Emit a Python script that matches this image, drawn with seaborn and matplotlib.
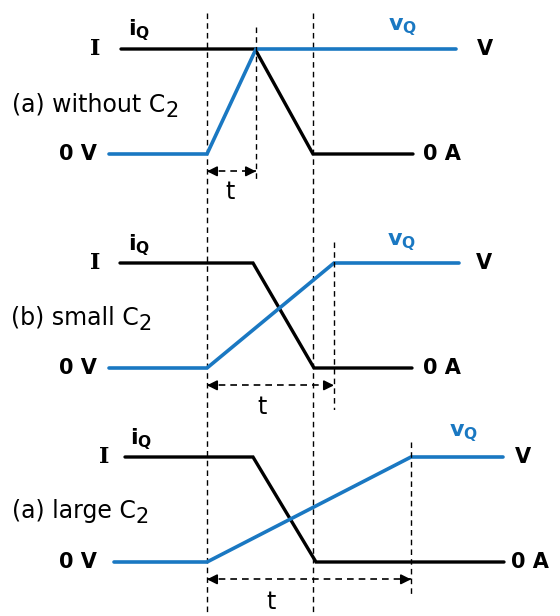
import numpy as np
import pandas as pd
import seaborn as sns
import matplotlib.pyplot as plt

sns.set_theme(style="white")
plt.rcParams['font.family'] = ['DejaVu Sans']
plt.rcParams['text.color'] = 'black'

BLUE = '#1a78c2'

# time axis: 0 = start of the voltage rise (arbitrary units)
panels = ['(a) without C', '(b) small C', '(a) large C']
i_time = [[-86, 48, 106, 206], [-87, 46, 107, 205], [-82, 46, 109, 297]]
i_level = [1, 1, 0, 0]
v_time = [[-98, 0, 49, 249], [-98, 0, 127, 252], [-93, 0, 204, 296]]
v_level = [0, 0, 1, 1]
t_len = [49, 127, 204]
i_fall = 106  # end of current fall in (a)

W, H = 560, 616
UNIT = 105.0  # px for one level step
X0 = 207      # px of time 0
# (top px, bottom px, baseline px) for each panel
layout = [(0, 200, 154), (200, 410, 368), (410, 616, 562)]

fig = plt.figure(figsize=(W / 100, H / 100), dpi=100)

# background axes for the long dashed guides
bg = fig.add_axes([0, 0, 1, 1])
bg.set_xlim(-X0, W - X0)
bg.set_ylim(H, 0)
bg.axis('off')
for tx in [0, i_fall]:
    bg.plot([tx, tx], [13, H], color='black', lw=1, ls=(0, (4, 3)))

lbl_pos = [
    dict(iq=(-68, 1.18), vq=(196, 1.21), lab=(-195, 0.47), ilab=(-112, 1), vlab=(278, 1), alab=(216, 0), clab=(23, -0.36), dash=(1.21, -0.27)),
    dict(iq=(-68, 1.17), vq=(195, 1.20), lab=(-196, 0.48), ilab=(-112, 1), vlab=(277, 1), alab=(216, 0), clab=(55, -0.37), dash=(1.20, -0.62)),
    dict(iq=(-66, 1.17), vq=(257, 1.23), lab=(-195, 0.49), ilab=(-103, 1), vlab=(316, 1), alab=(304, 0), clab=(64, -0.38), dash=(1.14, -0.33)),
]

for k, (top, bot, base) in enumerate(layout):
    ax = fig.add_axes([0, 1 - bot / H, 1, (bot - top) / H])
    ax.set_xlim(-X0, W - X0)
    ax.set_ylim((base - bot) / UNIT, (base - top) / UNIT)
    ax.axis('off')
    ax.patch.set_alpha(0)

    df_i = pd.DataFrame({'t': i_time[k], 'level': i_level})
    df_v = pd.DataFrame({'t': v_time[k], 'level': v_level})
    sns.lineplot(data=df_i, x='t', y='level', ax=ax, color='black', lw=2.4,
                 sort=False, estimator=None, solid_joinstyle='miter')
    sns.lineplot(data=df_v, x='t', y='level', ax=ax, color=BLUE, lw=2.6,
                 sort=False, estimator=None, solid_joinstyle='miter')

    p = lbl_pos[k]
    # short dashed guide at end of voltage rise
    ax.plot([t_len[k], t_len[k]], list(p['dash']), color='black', lw=1, ls=(0, (4, 3)))

    # dimension arrow
    ya = -0.165
    ax.plot([0, t_len[k]], [ya, ya], color='black', lw=1.2, ls=(0, (4, 3)))
    for a, b in [(6, 0), (t_len[k] - 6, t_len[k])]:
        ax.annotate('', xy=(b, ya), xytext=(a, ya),
                    arrowprops=dict(arrowstyle='-|>,head_length=0.5,head_width=0.25',
                                    color='black', lw=1.2, shrinkA=0, shrinkB=0))
    ax.text(*p['clab'], 't', fontsize=17, ha='center', va='center')

    ax.text(*p['iq'], r'$\mathbf{i}_\mathbf{Q}$', fontsize=16, ha='center', va='center')
    ax.text(*p['vq'], r'$\mathbf{v}_\mathbf{Q}$', fontsize=16, ha='center', va='center', color=BLUE)
    ax.text(*p['ilab'], 'I', fontsize=16, fontweight='bold', ha='center', va='center', family='DejaVu Serif')
    ax.text(-110, 0, '0 V', fontsize=15, fontweight='bold', ha='right', va='center')
    ax.text(*p['vlab'], 'V', fontsize=15, fontweight='bold', ha='center', va='center')
    ax.text(*p['alab'], '0 A', fontsize=15, fontweight='bold', ha='left', va='center')

    main = ax.text(*p['lab'], panels[k], fontsize=17, ha='left', va='center')
    ax.annotate('2', xy=(1, 0), xycoords=main, xytext=(0, -3), textcoords='offset points',
                fontsize=15, ha='left', va='bottom')

fig.savefig('out.png', dpi=100)
